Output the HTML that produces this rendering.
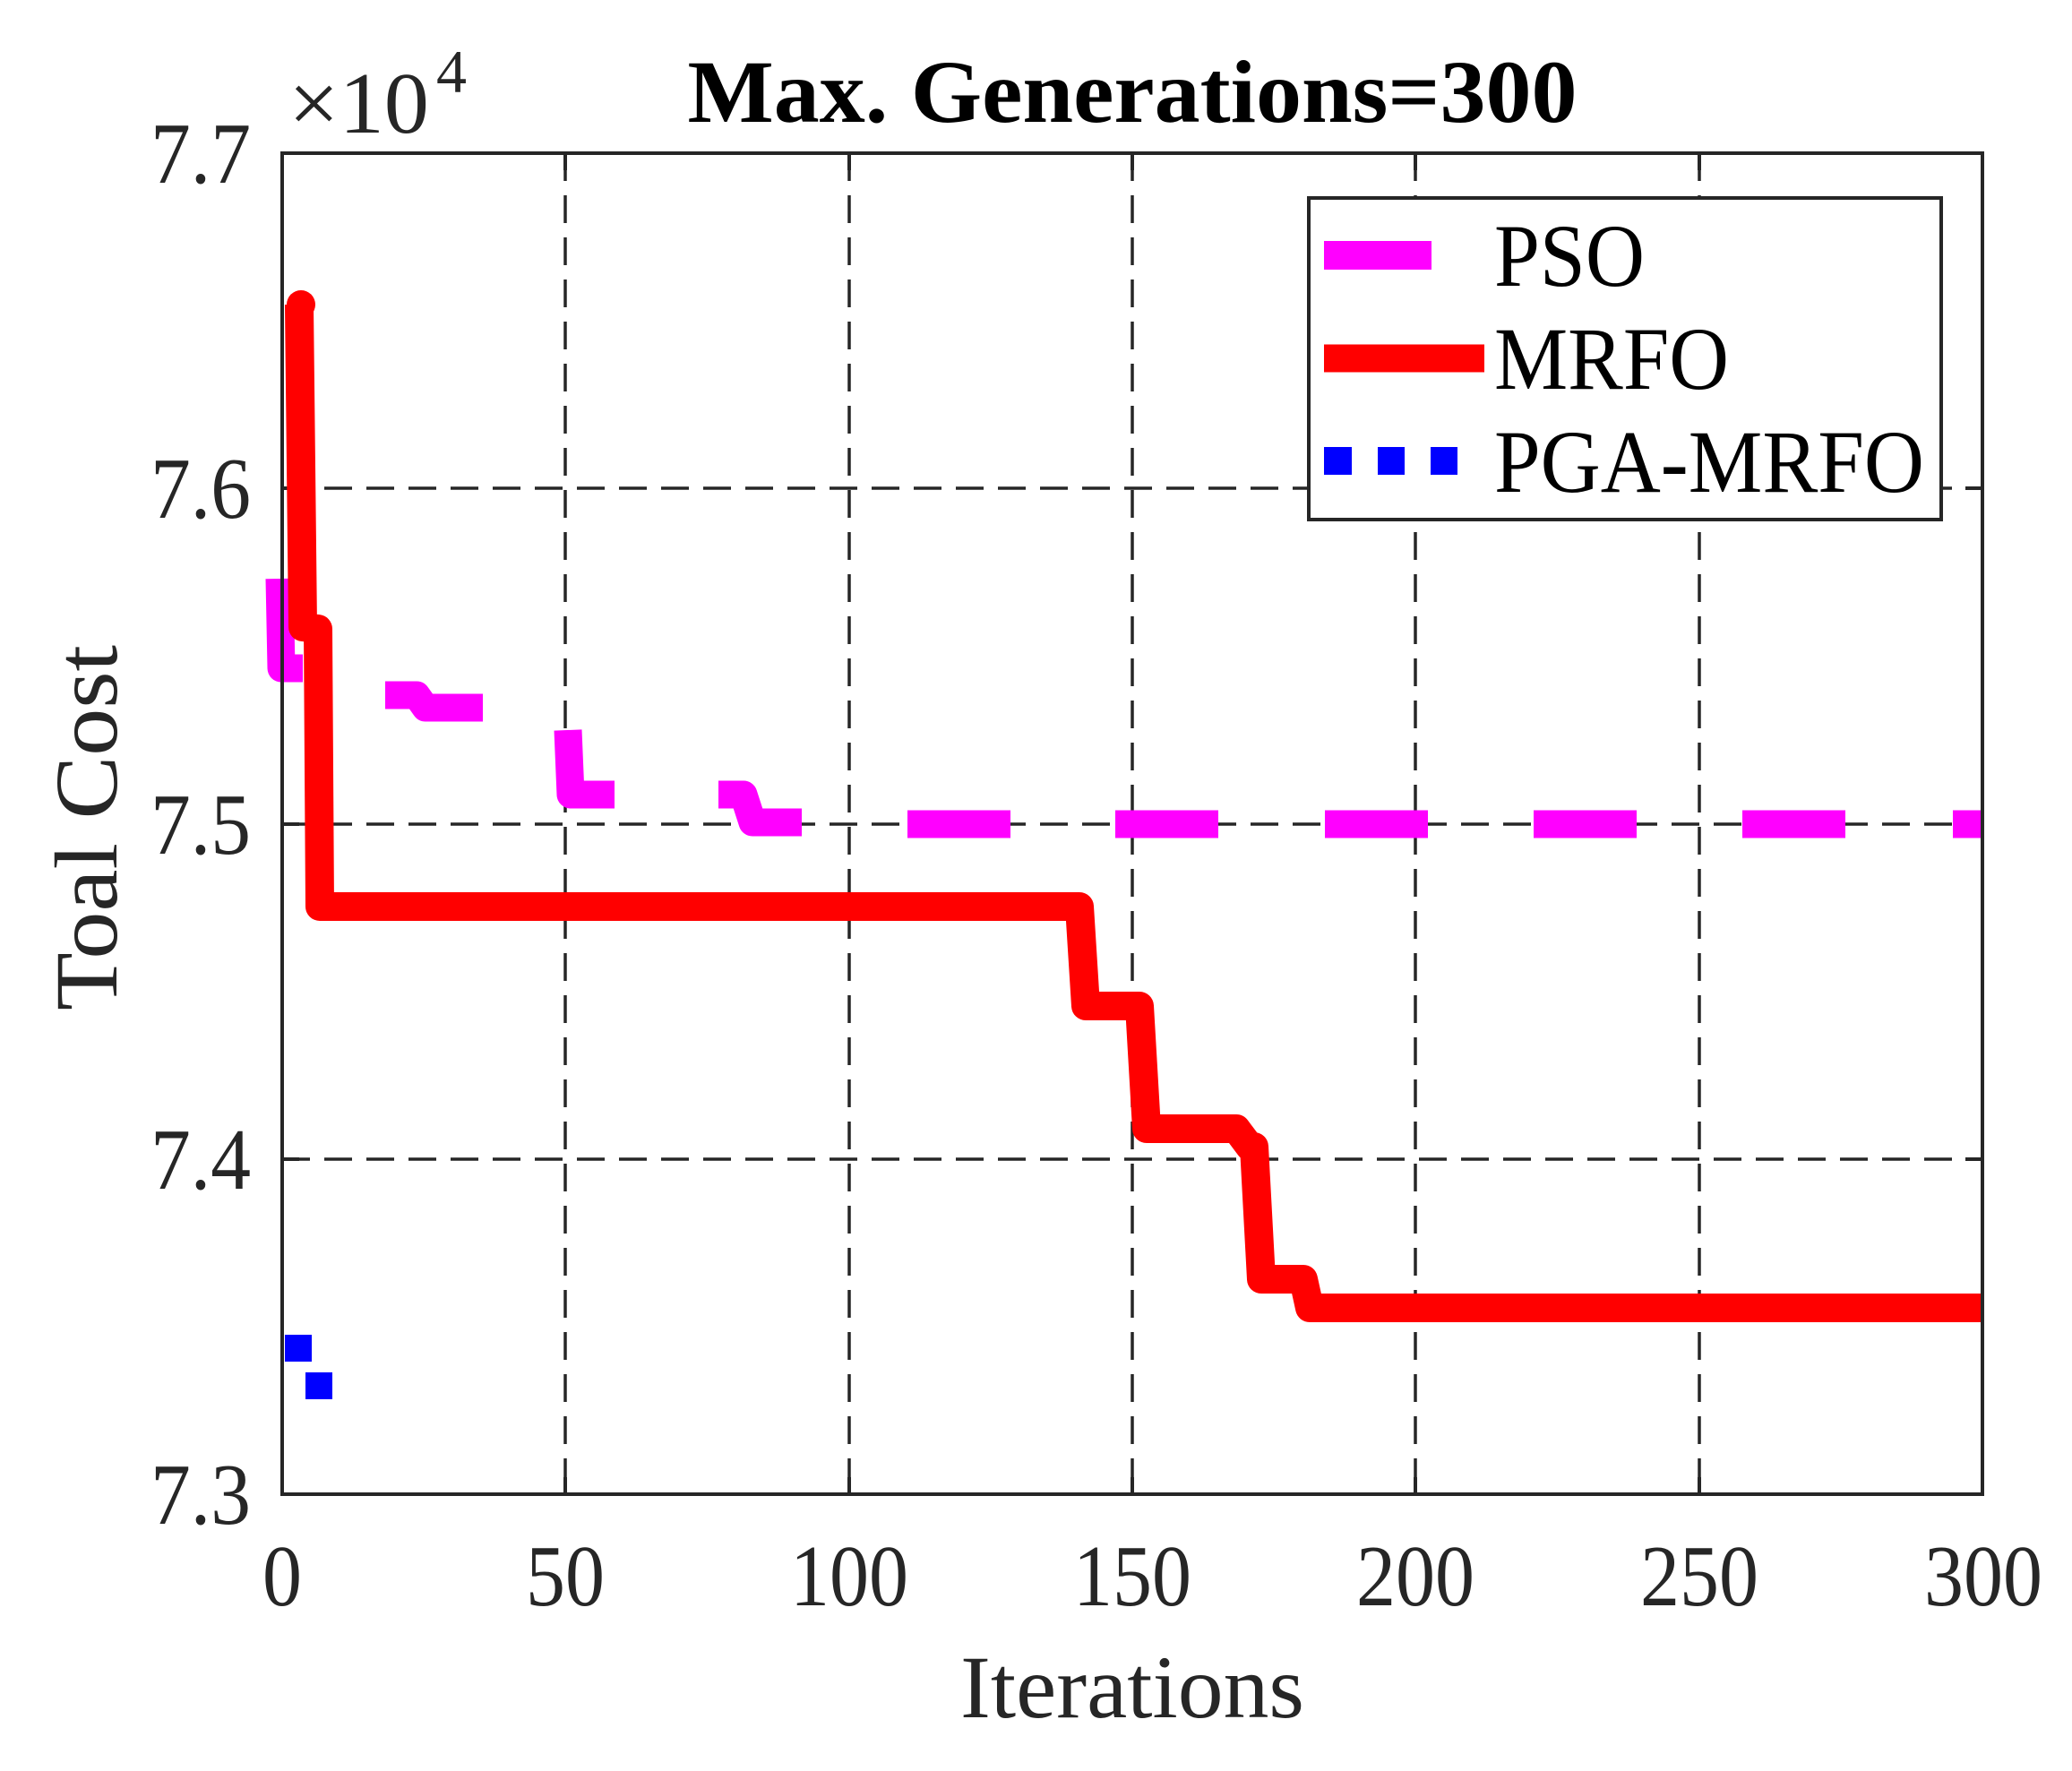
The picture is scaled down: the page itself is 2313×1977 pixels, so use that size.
<!DOCTYPE html>
<html><head><meta charset="utf-8"><style>
html,body{margin:0;padding:0;background:#fff;}
svg{display:block;}
text{font-family:"Liberation Serif",serif;fill:#262626;}
</style></head><body>
<svg width="2313" height="1977" viewBox="0 0 2313 1977" xmlns="http://www.w3.org/2000/svg">
<rect width="2313" height="1977" fill="#fff"/>
<g stroke="#262626" stroke-width="3.5" stroke-dasharray="31 16" fill="none">
<line x1="631" y1="171" x2="631" y2="1668"/>
<line x1="948" y1="171" x2="948" y2="1668"/>
<line x1="1264" y1="171" x2="1264" y2="1668"/>
<line x1="1580" y1="171" x2="1580" y2="1668"/>
<line x1="1897" y1="171" x2="1897" y2="1668"/>
<line x1="315" y1="545" x2="2213" y2="545"/>
<line x1="315" y1="920" x2="2213" y2="920"/>
<line x1="315" y1="1294" x2="2213" y2="1294"/>
</g>
<g stroke="#262626" stroke-width="4">
<path d="M631 1668v-19M948 1668v-19M1264 1668v-19M1580 1668v-19M1897 1668v-19M631 171v19M948 171v19M1264 171v19M1580 171v19M1897 171v19M315 545h19M315 920h19M315 1294h19M2213 545h-19M2213 920h-19M2213 1294h-19"/>
</g>
<g stroke="#ff00ff" stroke-width="31" fill="none" stroke-linejoin="round">
<path d="M312 646 L314 746 L338 746"/>
<path d="M430 776 L465 776 L475 790 L539 790"/>
<path d="M634 815 L637 887 L686 887"/>
<path d="M802 887 L830 887 L840 918 L895 918"/>
<line x1="1013" y1="920" x2="1128" y2="920"/>
<line x1="1245" y1="920" x2="1360" y2="920"/>
<line x1="1479" y1="920" x2="1594" y2="920"/>
<line x1="1712" y1="920" x2="1827" y2="920"/>
<line x1="1945" y1="920" x2="2060" y2="920"/>
<line x1="2180" y1="920" x2="2213" y2="920"/>
</g>
<path d="M334 340 L338 700 L355 702 L357 1012 L1198 1012 L1205 1012 L1212 1123 L1272 1123 L1280 1260 L1380 1260 L1395 1280 L1400 1280 L1408 1428 L1455 1428 L1462 1460 L2213 1460" stroke="#ff0000" stroke-width="32" fill="none" stroke-linejoin="round"/>
<circle cx="336" cy="340" r="16" fill="#ff0000"/>
<rect x="318" y="1490" width="30" height="30" fill="#0000ff"/>
<rect x="341" y="1532" width="30" height="30" fill="#0000ff"/>
<rect x="315" y="171" width="1898" height="1497" fill="none" stroke="#262626" stroke-width="4"/>
<rect x="1461" y="221" width="706" height="359" fill="#fff" stroke="#262626" stroke-width="4"/>
<line x1="1478" y1="285" x2="1598" y2="285" stroke="#ff00ff" stroke-width="32"/>
<line x1="1478" y1="400" x2="1657" y2="400" stroke="#ff0000" stroke-width="31"/>
<rect x="1478" y="499" width="31" height="31" fill="#0000ff"/>
<rect x="1538" y="499" width="30" height="31" fill="#0000ff"/>
<rect x="1597" y="499" width="30" height="31" fill="#0000ff"/>
<g font-size="100">
<text x="1668" y="319" textLength="168" lengthAdjust="spacingAndGlyphs" style="fill:#000">PSO</text>
<text x="1668" y="434" textLength="262" lengthAdjust="spacingAndGlyphs" style="fill:#000">MRFO</text>
<text x="1668" y="549" textLength="480" lengthAdjust="spacingAndGlyphs" style="fill:#000">PGA-MRFO</text>
</g>
<g font-size="98" text-anchor="middle">
<text x="315" y="1792" textLength="44" lengthAdjust="spacingAndGlyphs">0</text>
<text x="631" y="1792" textLength="88" lengthAdjust="spacingAndGlyphs">50</text>
<text x="948" y="1792" textLength="132" lengthAdjust="spacingAndGlyphs">100</text>
<text x="1264" y="1792" textLength="132" lengthAdjust="spacingAndGlyphs">150</text>
<text x="1580" y="1792" textLength="132" lengthAdjust="spacingAndGlyphs">200</text>
<text x="1897" y="1792" textLength="132" lengthAdjust="spacingAndGlyphs">250</text>
<text x="2214" y="1792" textLength="132" lengthAdjust="spacingAndGlyphs">300</text>
</g>
<g font-size="98" text-anchor="end">
<text x="280" y="204" textLength="112" lengthAdjust="spacingAndGlyphs">7.7</text>
<text x="280" y="578" textLength="112" lengthAdjust="spacingAndGlyphs">7.6</text>
<text x="280" y="953" textLength="112" lengthAdjust="spacingAndGlyphs">7.5</text>
<text x="280" y="1327" textLength="112" lengthAdjust="spacingAndGlyphs">7.4</text>
<text x="280" y="1701" textLength="112" lengthAdjust="spacingAndGlyphs">7.3</text>
</g>
<text x="322" y="148" font-size="98" textLength="157" lengthAdjust="spacingAndGlyphs">×10</text>
<text x="487" y="103" font-size="68">4</text>
<text x="1264" y="136" font-size="100" font-weight="bold" text-anchor="middle" textLength="993" lengthAdjust="spacingAndGlyphs" style="fill:#000">Max. Generations=300</text>
<text x="1264" y="1917" font-size="100" text-anchor="middle" textLength="384" lengthAdjust="spacingAndGlyphs">Iterations</text>
<text transform="translate(130,924) rotate(-90)" font-size="100" text-anchor="middle" textLength="408" lengthAdjust="spacingAndGlyphs">Toal Cost</text>
</svg>
</body></html>
